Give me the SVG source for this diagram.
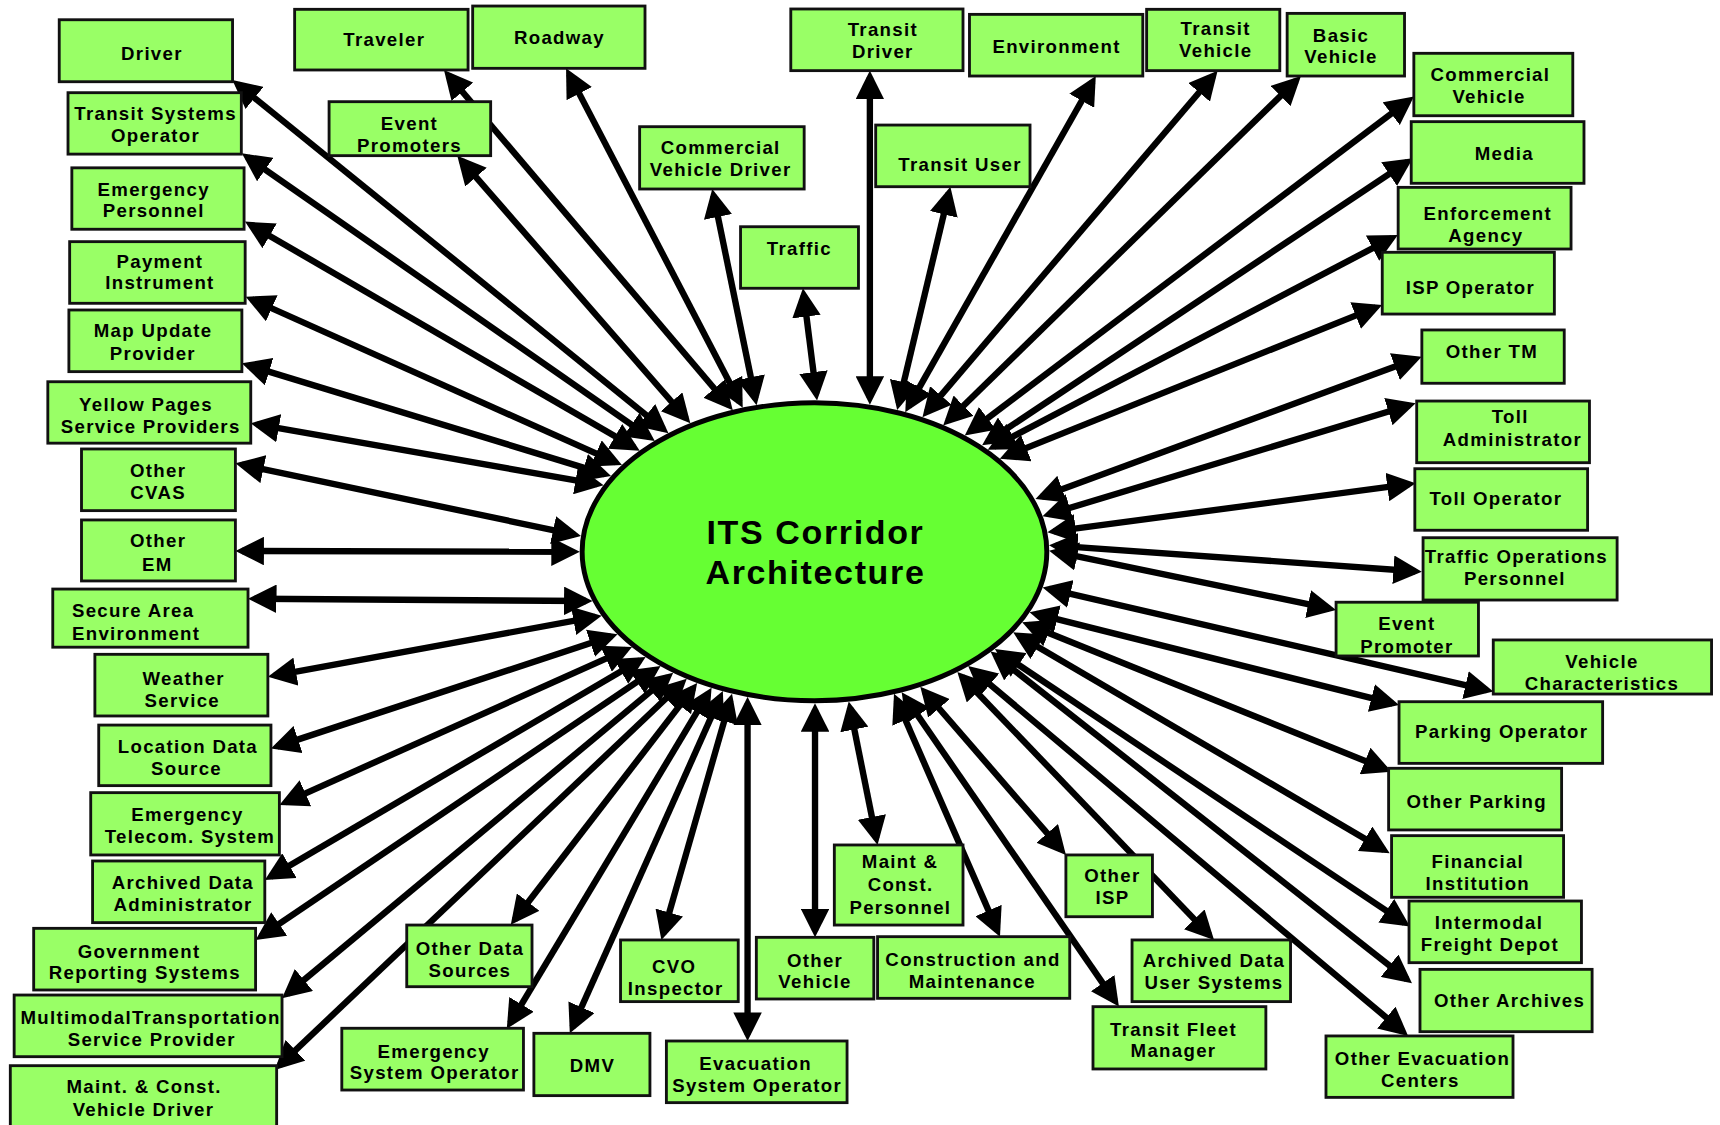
<svg xmlns="http://www.w3.org/2000/svg" width="1720" height="1125" viewBox="0 0 1720 1125">
<defs>
<style>
.n rect{fill:#99FF66;stroke:#111;stroke-width:2.6}
.n text,.title{font-family:"Liberation Sans",Arial,Helvetica,sans-serif;font-weight:bold;font-size:17px;letter-spacing:1.2px;text-anchor:middle;fill:#000}
.title{font-size:31px;letter-spacing:1.5px}
.c line{stroke:#000;stroke-width:5.8;marker-start:url(#ah);marker-end:url(#ah)}
</style>
<marker id="ah" viewBox="0 0 26 26" refX="20" refY="13" markerWidth="26" markerHeight="26" markerUnits="userSpaceOnUse" orient="auto-start-reverse"><path d="M0,0 L26,13 L0,26 Z" fill="#000"/></marker>
</defs>
<rect width="1720" height="1125" fill="#fff"/>
<g transform="scale(1.09694)">
<g id="connectors" class="c">
<line x1="216.5" y1="76.7" x2="604.7" y2="391.1"/>
<line x1="225.4" y1="143.2" x2="592" y2="398.5"/>
<line x1="228.5" y1="205" x2="578" y2="407.8"/>
<line x1="229.5" y1="272.9" x2="561.5" y2="421.5"/>
<line x1="226.2" y1="333" x2="551.3" y2="432.2"/>
<line x1="234.4" y1="386.9" x2="544.4" y2="441.3"/>
<line x1="220.5" y1="423.6" x2="523.8" y2="487.4"/>
<line x1="220.6" y1="502.3" x2="522.6" y2="503"/>
<line x1="232.1" y1="545.8" x2="534.2" y2="547.9"/>
<line x1="250.1" y1="615.9" x2="542.6" y2="562.4"/>
<line x1="252.7" y1="680.4" x2="557.3" y2="580.1"/>
<line x1="260.2" y1="731.4" x2="570.7" y2="592.3"/>
<line x1="246.6" y1="799.2" x2="583.4" y2="602"/>
<line x1="238" y1="853.5" x2="597.2" y2="610.5"/>
<line x1="261.7" y1="906.2" x2="609.1" y2="617.1"/>
<line x1="254.8" y1="971.2" x2="621.7" y2="622.9"/>
<line x1="408.6" y1="68.4" x2="664.1" y2="369.4"/>
<line x1="518.8" y1="67.6" x2="674.3" y2="366.4"/>
<line x1="420.8" y1="146.4" x2="625.4" y2="381.3"/>
<line x1="650.5" y1="178.2" x2="688.5" y2="363.5"/>
<line x1="732.7" y1="268.8" x2="744.1" y2="359.1"/>
<line x1="793" y1="70.4" x2="793" y2="362.9"/>
<line x1="865" y1="176" x2="819.3" y2="367.9"/>
<line x1="996" y1="74.5" x2="828.2" y2="370.7"/>
<line x1="1106.1" y1="69" x2="844.8" y2="375.7"/>
<line x1="1181.7" y1="73.5" x2="864.1" y2="383.8"/>
<line x1="1284.2" y1="91.6" x2="884.3" y2="393.4"/>
<line x1="1283" y1="147.6" x2="900.3" y2="402.5"/>
<line x1="1269" y1="217" x2="905.8" y2="407.2"/>
<line x1="1254.4" y1="280.2" x2="917" y2="415.9"/>
<line x1="1290.4" y1="327.3" x2="949.6" y2="452.9"/>
<line x1="1284.8" y1="369.4" x2="956.1" y2="468.8"/>
<line x1="1284.6" y1="441.4" x2="960.8" y2="484.4"/>
<line x1="1290.2" y1="520.8" x2="962.3" y2="497.4"/>
<line x1="1212.1" y1="554.8" x2="962.3" y2="503.2"/>
<line x1="1355.5" y1="629.1" x2="956.3" y2="536.9"/>
<line x1="1269.6" y1="641.2" x2="944.4" y2="559.7"/>
<line x1="1263" y1="701.2" x2="937.4" y2="569.5"/>
<line x1="1261.7" y1="774.8" x2="928.8" y2="579.5"/>
<line x1="1280.4" y1="841.4" x2="912" y2="595"/>
<line x1="1282.5" y1="892.7" x2="907.7" y2="597.7"/>
<line x1="1279.1" y1="940.5" x2="887.2" y2="611.1"/>
<line x1="1016.6" y1="912.7" x2="825.4" y2="636"/>
<line x1="1102.6" y1="852.5" x2="876.9" y2="616.9"/>
<line x1="967.8" y1="774.8" x2="842.9" y2="630.6"/>
<line x1="909.2" y1="848.4" x2="817.4" y2="638"/>
<line x1="798.8" y1="764.4" x2="774.9" y2="645.4"/>
<line x1="743" y1="848.5" x2="743" y2="647"/>
<line x1="681.5" y1="943" x2="681.5" y2="641.3"/>
<line x1="604.6" y1="851.1" x2="665.7" y2="638.2"/>
<line x1="521.9" y1="936.5" x2="656.5" y2="635.5"/>
<line x1="469.3" y1="838.2" x2="631.9" y2="627.3"/>
<line x1="465.1" y1="932.8" x2="645.6" y2="632.2"/>
</g>
<g id="its-corridor">
<ellipse cx="742.5" cy="503" rx="211.8" ry="135.8" fill="#66FF33" stroke="#000" stroke-width="4.5"/>
<text class="title" x="743.4" y="496">ITS Corridor</text>
<text class="title" x="743.4" y="532.7">Architecture</text>
</g>
<g id="driver" class="n"><rect x="54" y="18" width="158" height="56.5"/><text x="138.5" y="54.7">Driver</text></g>
<g id="transit-systems-operator" class="n"><rect x="62" y="84.5" width="158" height="56"/><text x="141.8" y="109.4">Transit Systems</text><text x="141.8" y="129.7">Operator</text></g>
<g id="emergency-personnel" class="n"><rect x="65.5" y="153" width="157" height="56"/><text x="140.1" y="178.7">Emergency</text><text x="140.1" y="198.1">Personnel</text></g>
<g id="payment-instrument" class="n"><rect x="63.5" y="220.3" width="160" height="56.2"/><text x="145.8" y="244">Payment</text><text x="145.8" y="263.8">Instrument</text></g>
<g id="map-update-provider" class="n"><rect x="62.8" y="282.6" width="157.7" height="56.2"/><text x="139.6" y="307.5">Map Update</text><text x="139.4" y="328.2">Provider</text></g>
<g id="yellow-pages" class="n"><rect x="43.6" y="348" width="185" height="56"/><text x="133.1" y="374.4">Yellow Pages</text><text x="137.4" y="394.4">Service Providers</text></g>
<g id="other-cvas" class="n"><rect x="74.3" y="409.3" width="140.3" height="56.2"/><text x="144.2" y="435.1">Other</text><text x="144.2" y="455.2">CVAS</text></g>
<g id="other-em" class="n"><rect x="74.3" y="474" width="140.3" height="55.6"/><text x="144.2" y="498.9">Other</text><text x="143.4" y="520.5">EM</text></g>
<g id="secure-area-environment" class="n"><rect x="48.1" y="537" width="178" height="53"/><text x="65.6" y="562.8" style="text-anchor:start">Secure Area</text><text x="65.6" y="583.4" style="text-anchor:start">Environment</text></g>
<g id="weather-service" class="n"><rect x="86.5" y="596.5" width="157.7" height="56.2"/><text x="167.5" y="624.4">Weather</text><text x="166.2" y="644.8">Service</text></g>
<g id="location-data-source" class="n"><rect x="90" y="661" width="157" height="55.2"/><text x="171.3" y="686.8">Location Data</text><text x="170" y="706.5">Source</text></g>
<g id="emergency-telecom-system" class="n"><rect x="82.7" y="722.6" width="172" height="56.8"/><text x="170.9" y="748.4">Emergency</text><text x="173.2" y="768.8">Telecom. System</text></g>
<g id="archived-data-administrator" class="n"><rect x="84.4" y="784.9" width="157" height="56.2"/><text x="166.7" y="810.4">Archived Data</text><text x="166.9" y="830.5">Administrator</text></g>
<g id="government-reporting-systems" class="n"><rect x="30.7" y="846.3" width="202.3" height="56.2"/><text x="126.8" y="873">Government</text><text x="132" y="892.8">Reporting Systems</text></g>
<g id="multimodal-transportation-service-provider" class="n"><rect x="12.9" y="907.1" width="244.2" height="56.2"/><text x="137.3" y="933.8">MultimodalTransportation</text><text x="138.3" y="953.6">Service Provider</text></g>
<g id="maint-const-vehicle-driver" class="n"><rect x="9.4" y="971.5" width="242.8" height="60"/><text x="131.4" y="996.7">Maint. &amp; Const.</text><text x="130.8" y="1017.4">Vehicle Driver</text></g>
<g id="traveler" class="n"><rect x="268.6" y="8.5" width="158.1" height="55.3"/><text x="350.3" y="41.9">Traveler</text></g>
<g id="roadway" class="n"><rect x="430.9" y="5.5" width="157.1" height="56.8"/><text x="510" y="40.1">Roadway</text></g>
<g id="event-promoters" class="n"><rect x="300" y="92.7" width="147.3" height="49.2"/><text x="373.3" y="118.5">Event</text><text x="373.3" y="138.3">Promoters</text></g>
<g id="commercial-vehicle-driver" class="n"><rect x="583.1" y="115.5" width="150" height="56.8"/><text x="657" y="140.4">Commercial</text><text x="657" y="160.4">Vehicle Driver</text></g>
<g id="traffic" class="n"><rect x="675.1" y="206.7" width="107.5" height="56.1"/><text x="728.7" y="232.5">Traffic</text></g>
<g id="transit-driver" class="n"><rect x="720.9" y="8.2" width="157" height="56.2"/><text x="804.8" y="32.8">Transit</text><text x="804.8" y="53.2">Driver</text></g>
<g id="transit-user" class="n"><rect x="798.3" y="114" width="140.7" height="56.2"/><text x="875.2" y="155.6">Transit User</text></g>
<g id="environment" class="n"><rect x="883.8" y="13.1" width="158" height="56.2"/><text x="963.2" y="48.6">Environment</text></g>
<g id="transit-vehicle" class="n"><rect x="1045.3" y="8.5" width="121.4" height="55.9"/><text x="1108.3" y="31.9">Transit</text><text x="1108.3" y="52.3">Vehicle</text></g>
<g id="basic-vehicle" class="n"><rect x="1173.4" y="12.2" width="107" height="57.1"/><text x="1222.5" y="38">Basic</text><text x="1222.5" y="57.1">Vehicle</text></g>
<g id="commercial-vehicle" class="n"><rect x="1288.9" y="48.6" width="144.9" height="56.9"/><text x="1358.7" y="73.8">Commercial</text><text x="1357.5" y="93.6">Vehicle</text></g>
<g id="media" class="n"><rect x="1286.5" y="110.9" width="157.5" height="56.2"/><text x="1371.4" y="145.9">Media</text></g>
<g id="enforcement-agency" class="n"><rect x="1274.6" y="170.8" width="157.6" height="56.2"/><text x="1356.3" y="200.5">Enforcement</text><text x="1354.6" y="220.3">Agency</text></g>
<g id="isp-operator" class="n"><rect x="1260.1" y="230" width="156.9" height="56.3"/><text x="1340.4" y="268">ISP Operator</text></g>
<g id="other-tm" class="n"><rect x="1296.2" y="300.8" width="129.8" height="48.6"/><text x="1360.1" y="326">Other TM</text></g>
<g id="toll-administrator" class="n"><rect x="1291.5" y="365.6" width="157.5" height="56.2"/><text x="1376.8" y="385.9">Toll</text><text x="1378.8" y="406.3">Administrator</text></g>
<g id="toll-operator" class="n"><rect x="1289.8" y="427.3" width="157.5" height="56.1"/><text x="1363.7" y="460.4">Toll Operator</text></g>
<g id="traffic-operations-personnel" class="n"><rect x="1297.3" y="490.2" width="176.9" height="56.8"/><text x="1382.4" y="513.5">Traffic Operations</text><text x="1381" y="533.3">Personnel</text></g>
<g id="event-promoter" class="n"><rect x="1218" y="549" width="129.8" height="49"/><text x="1282.5" y="574.3">Event</text><text x="1282.5" y="595.6">Promoter</text></g>
<g id="vehicle-characteristics" class="n"><rect x="1361.3" y="583.4" width="199" height="49.3"/><text x="1460.4" y="608.6">Vehicle</text><text x="1460.4" y="629">Characteristics</text></g>
<g id="parking-operator" class="n"><rect x="1275.4" y="639.7" width="185.6" height="56.2"/><text x="1368.9" y="672.5">Parking Operator</text></g>
<g id="other-parking" class="n"><rect x="1265.9" y="700.4" width="157.7" height="56.2"/><text x="1346.2" y="736.3">Other Parking</text></g>
<g id="financial-institution" class="n"><rect x="1268.6" y="761.8" width="156.8" height="56.2"/><text x="1347.2" y="791.6">Financial</text><text x="1347.2" y="811.3">Institution</text></g>
<g id="intermodal-freight-depot" class="n"><rect x="1284.5" y="821.4" width="157.2" height="56.2"/><text x="1357.4" y="846.9">Intermodal</text><text x="1358.2" y="866.7">Freight Depot</text></g>
<g id="other-archives" class="n"><rect x="1294.5" y="883.7" width="156.9" height="56.8"/><text x="1376.2" y="918.3">Other Archives</text></g>
<g id="other-evacuation-centers" class="n"><rect x="1208.8" y="944.4" width="170.5" height="56"/><text x="1296.8" y="970.9">Other Evacuation</text><text x="1294.8" y="990.6">Centers</text></g>
<g id="transit-fleet-manager" class="n"><rect x="996.4" y="917.7" width="157.6" height="56.8"/><text x="1069.8" y="944.1">Transit Fleet</text><text x="1069.8" y="963.9">Manager</text></g>
<g id="archived-data-user-systems" class="n"><rect x="1032" y="856.9" width="144.5" height="56.2"/><text x="1106.7" y="881.2">Archived Data</text><text x="1106.7" y="901.6">User Systems</text></g>
<g id="other-isp" class="n"><rect x="971.7" y="779.4" width="78.9" height="56.3"/><text x="1014.1" y="803.8">Other</text><text x="1014.1" y="824.4">ISP</text></g>
<g id="construction-and-maintenance" class="n"><rect x="800" y="853.9" width="175.2" height="56.2"/><text x="887" y="880.6">Construction and</text><text x="886.4" y="901">Maintenance</text></g>
<g id="maint-const-personnel" class="n"><rect x="760.6" y="770.3" width="117.3" height="73"/><text x="820.5" y="791">Maint &amp;</text><text x="821" y="812.3">Const.</text><text x="820.8" y="833.5">Personnel</text></g>
<g id="other-vehicle" class="n"><rect x="689.5" y="854.5" width="107.1" height="56.2"/><text x="743" y="881.2">Other</text><text x="743" y="901">Vehicle</text></g>
<g id="evacuation-system-operator" class="n"><rect x="607.5" y="949" width="164.7" height="56.2"/><text x="688.8" y="975.4">Evacuation</text><text x="690.2" y="995.2">System Operator</text></g>
<g id="cvo-inspector" class="n"><rect x="565.7" y="856.9" width="107.3" height="56.2"/><text x="614.6" y="887.3">CVO</text><text x="616" y="907.1">Inspector</text></g>
<g id="dmv" class="n"><rect x="486.7" y="942" width="105.8" height="56.8"/><text x="540.1" y="977.6">DMV</text></g>
<g id="other-data-sources" class="n"><rect x="370.8" y="843.3" width="114.2" height="56.2"/><text x="428.4" y="870.6">Other Data</text><text x="428.4" y="890.4">Sources</text></g>
<g id="emergency-system-operator" class="n"><rect x="311.6" y="937.4" width="165.6" height="56.3"/><text x="395.4" y="964.2">Emergency</text><text x="396.3" y="984">System Operator</text></g>
</g>
</svg>
